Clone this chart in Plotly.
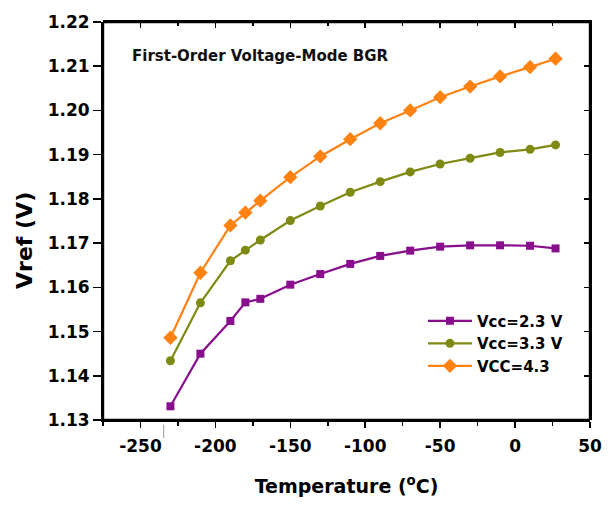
import plotly.graph_objects as go

# Temperature sweep (°C) and reference voltage (V) for three supply voltages
temperature = [-230, -210, -190, -180, -170, -150, -130, -110, -90, -70, -50, -30, -10, 10, 27]
vref_vcc23 = [1.1331, 1.1450, 1.1524, 1.1566, 1.1574, 1.1606, 1.1630, 1.1653, 1.1671,
              1.1683, 1.1692, 1.1695, 1.1695, 1.1694, 1.1688]
vref_vcc33 = [1.1434, 1.1565, 1.1660, 1.1684, 1.1707, 1.1751, 1.1784, 1.1815, 1.1839,
              1.1861, 1.1879, 1.1892, 1.1905, 1.1912, 1.1922]
vref_vcc43 = [1.1486, 1.1633, 1.1740, 1.1769, 1.1796, 1.1849, 1.1896, 1.1935, 1.1971,
              1.2000, 1.2030, 1.2054, 1.2077, 1.2098, 1.2117]

series_names = ["Vcc=2.3 V", "Vcc=3.3 V", "VCC=4.3"]
y_ticks = [1.13, 1.14, 1.15, 1.16, 1.17, 1.18, 1.19, 1.20, 1.21, 1.22]
y_tick_text = ["1.13", "1.14", "1.15", "1.16", "1.17", "1.18", "1.19", "1.20", "1.21", "1.22"]
x_ticks = [-250, -200, -150, -100, -50, 0, 50]
x_tick_text = ["-250", "-200", "-150", "-100", "-50", "0", "50"]

FONT = "DejaVu Sans"
X_RANGE = [-275, 50]
Y_RANGE = [1.13, 1.22]

fig = go.Figure()

# plot frame drawn around the full axis ranges
fig.add_trace(go.Scatter(
    x=[X_RANGE[0], X_RANGE[1], X_RANGE[1], X_RANGE[0], X_RANGE[0]],
    y=[Y_RANGE[0], Y_RANGE[0], Y_RANGE[1], Y_RANGE[1], Y_RANGE[0]],
    mode="lines", line=dict(color="black", width=2.4), cliponaxis=False,
    showlegend=False, hoverinfo="skip"))

styles = [
    (vref_vcc23, "#880E8E", "square", 8),
    (vref_vcc33, "#7E8A14", "circle", 9),
    (vref_vcc43, "#FF8213", "diamond", 11),
]
for name, (vals, color, symbol, size) in zip(series_names, styles):
    fig.add_trace(go.Scatter(
        x=temperature, y=vals, name="<b>%s</b>" % name, mode="lines+markers",
        line=dict(color=color, width=2.2),
        marker=dict(symbol=symbol, size=size, color=color),
    ))

# transparent copy of one series on a second subplot covering the same area,
# whose axes carry the inward ticks on the top and right sides
fig.add_trace(go.Scatter(x=temperature, y=vref_vcc23, xaxis="x2", yaxis="y2",
                         mode="lines", line=dict(color="rgba(0,0,0,0)"), showlegend=False,
                         hoverinfo="skip"))

axis_common = dict(showgrid=False, zeroline=False, showline=True,
                   linecolor="black", linewidth=2, domain=[0, 1])

fig.update_layout(
    width=614, height=506,
    margin=dict(l=103, r=17, t=21, b=83),
    paper_bgcolor="white", plot_bgcolor="rgba(0,0,0,0)",
    font=dict(family=FONT, color="black"),
    showlegend=True,
    legend=dict(x=0.657, y=0.29, xanchor="left", yanchor="top",
                bgcolor="rgba(0,0,0,0)", tracegroupgap=0,
                font=dict(family=FONT, size=15, color="black"),
                itemwidth=44),
    xaxis=dict(**axis_common, anchor="y", range=X_RANGE, tickmode="array", tickvals=x_ticks,
               ticktext=["<b>%s</b>" % t for t in x_tick_text],
               ticks="outside", ticklen=6, tickwidth=1.5, tickcolor="black",
               ticklabelstandoff=4,
               minor=dict(ticks="outside", ticklen=4, tickwidth=1.5, dtick=25,
                          tick0=-275, tickcolor="black"),
               tickfont=dict(family=FONT, size=17, color="black"),
               title=dict(text="<b>Temperature (<sup>o</sup>C)</b>",
                          font=dict(family=FONT, size=19, color="black"), standoff=24)),
    yaxis=dict(**axis_common, anchor="x", range=Y_RANGE, tickmode="array", tickvals=y_ticks,
               ticktext=["<b>%s</b>" % t for t in y_tick_text],
               ticks="outside", ticklen=8, tickwidth=1.5, tickcolor="black",
               tickfont=dict(family=FONT, size=17, color="black")),
    xaxis2=dict(**axis_common, anchor="y2", side="top",
                range=X_RANGE, tickmode="array", tickvals=x_ticks,
                ticks="inside", ticklen=6, tickwidth=1.5, tickcolor="black",
                minor=dict(ticks="inside", ticklen=4, tickwidth=1.5, dtick=25,
                           tick0=-275, tickcolor="black"),
                showticklabels=False),
    yaxis2=dict(**axis_common, anchor="x2", side="right",
                range=Y_RANGE, tickmode="array", tickvals=y_ticks,
                ticks="inside", ticklen=6, tickwidth=1.5, tickcolor="black",
                showticklabels=False),
)

# y-axis title
fig.add_annotation(text="<b>Vref (V)</b>", xref="paper", yref="paper",
                   x=-0.16, y=0.45, xanchor="center", yanchor="middle", textangle=-90,
                   showarrow=False, font=dict(family=FONT, size=22, color="black"))

fig.add_annotation(text="<b>First-Order Voltage-Mode BGR</b>", xref="paper", yref="paper",
                   x=0.055, y=0.915, xanchor="left", yanchor="middle", showarrow=False,
                   font=dict(family=FONT, size=15, color="#111111"))

# thin gray mark beside the -250 tick label
fig.add_shape(type="line", xref="x", yref="paper", x0=-234.5, x1=-234.5, y0=-0.012, y1=-0.045,
              line=dict(color="#9a9a9a", width=1))

fig.write_html("out.html", config={"staticPlot": True, "displayModeBar": False})
